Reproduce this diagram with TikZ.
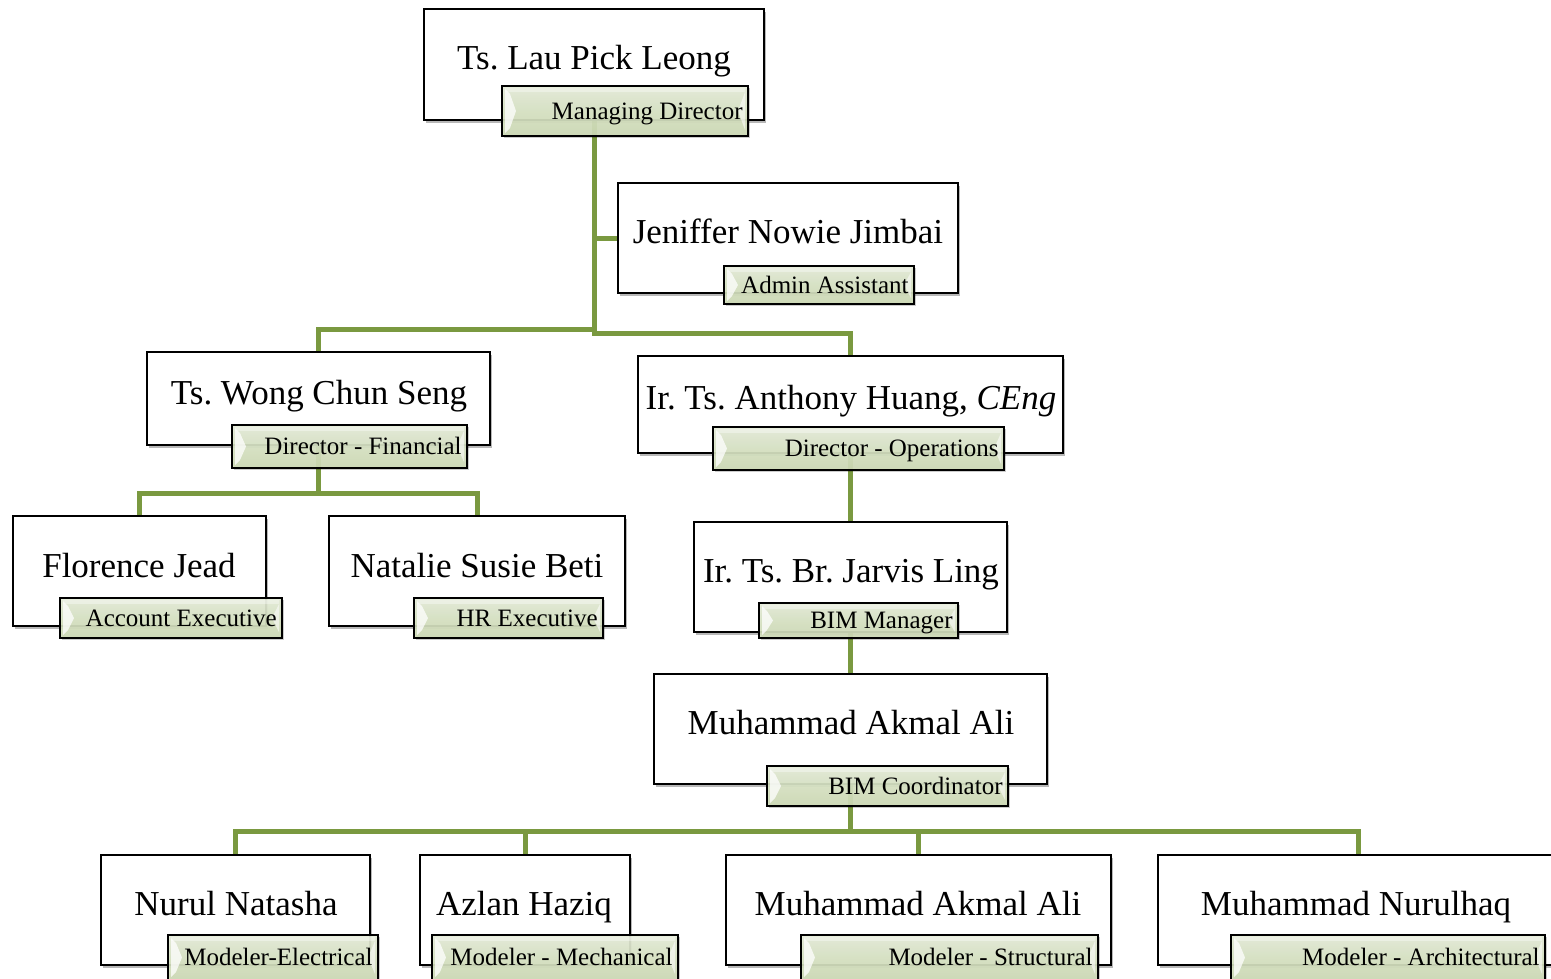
\documentclass[tikz,border=0pt]{standalone}
\usepackage{fontspec}
\setmainfont{Liberation Serif}
\usetikzlibrary{fit,shadows,calc}
\definecolor{conngreen}{RGB}{122,153,64}
\definecolor{lblfill}{RGB}{216,227,196}
\definecolor{lbltop}{RGB}{230,237,218}
\definecolor{lblbot}{RGB}{206,219,182}
\frenchspacing
\tikzset{
  box/.style={draw=black, line width=1.8pt, fill=white, inner sep=0pt, rectangle,
    drop shadow={shadow xshift=2pt, shadow yshift=-3pt, fill=black, opacity=0.28}},
  lbl/.style={draw=black, line width=1.6pt, inner sep=0pt, rectangle,
    top color=lbltop, bottom color=lblbot, middle color=lblfill, fill opacity=0.92,
    drop shadow={shadow xshift=1.5pt, shadow yshift=-2pt, fill=black, opacity=0.2},
    path picture={
      \fill[white, opacity=0.75]
        ($(path picture bounding box.north west)+(3pt,-3pt)$) --
        ($(path picture bounding box.north west)+(8pt,-8pt)$) --
        ($(path picture bounding box.west)+(14pt,0pt)$) --
        ($(path picture bounding box.south west)+(8pt,8pt)$) --
        ($(path picture bounding box.south west)+(3pt,3pt)$) -- cycle;
      \fill[white, opacity=0.55]
        ($(path picture bounding box.north east)+(-3pt,-6pt)$) --
        ($(path picture bounding box.east)+(-10pt,0pt)$) --
        ($(path picture bounding box.south east)+(-3pt,6pt)$) -- cycle;
      \fill[white, opacity=0.35]
        ($(path picture bounding box.north west)+(3pt,-2pt)$) rectangle
        ($(path picture bounding box.north east)+(-3pt,-6pt)$);
    }},
  nametext/.style={inner sep=0pt, anchor=base, font=\fontsize{35}{40}\selectfont, text=black},
  lbltext/.style={inner sep=0pt, anchor=base east, font=\fontsize{25}{28}\selectfont, text=black},
  conn/.style={draw=conngreen, line width=5pt, line join=miter}
}
\begin{document}
\begin{tikzpicture}[x=1pt, y=-1pt]
\path[use as bounding box] (0,0) rectangle (1551,978);
\clip (0,0) rectangle (1551,978);

% ---------- geometry of boxes (placed first so connectors can refer to them) ----------
\path
  node[fit={(424,9) (764,120)}, inner sep=0pt] (lau) {}
  node[fit={(618,183) (958,293)}, inner sep=0pt] (jen) {}
  node[fit={(147,352) (490,445)}, inner sep=0pt] (wong) {}
  node[fit={(638,356) (1063,453)}, inner sep=0pt] (ant) {}
  node[fit={(13,516) (266,626)}, inner sep=0pt] (flo) {}
  node[fit={(329,516) (625,626)}, inner sep=0pt] (nat) {}
  node[fit={(694,522) (1007,632)}, inner sep=0pt] (jar) {}
  node[fit={(654,674) (1047,784)}, inner sep=0pt] (akm) {}
  node[fit={(101,855) (370,965)}, inner sep=0pt] (nur) {}
  node[fit={(420,855) (630,965)}, inner sep=0pt] (azl) {}
  node[fit={(726,855) (1111,965)}, inner sep=0pt] (aka) {}
  node[fit={(1158,855) (1558,965)}, inner sep=0pt] (nrh) {};

% ---------- connectors ----------
\coordinate (jl) at (594,329);
\coordinate (jr) at (594,333);
\coordinate (jw) at (319,493);
\coordinate (ja) at (851,831);
\draw[conn] (lau.south) |- (jen.west);
\draw[conn] (lau.south) -- (jr) -| (ant.north);
\draw[conn] (jl) -| (wong.north);
\draw[conn] (wong.south) -- (wong.south |- jw);
\draw[conn] (flo.north) |- (jw) -| (nat.north);
\draw[conn] (ant.south) -- (jar.north);
\draw[conn] (jar.south) -- (akm.north);
\draw[conn] (akm.south) -- (akm.south |- ja);
\draw[conn] (nur.north) |- (ja) -| (nrh.north);
\draw[conn] (azl.north) -- (azl.north |- ja);
\draw[conn] (aka.north) -- (aka.north |- ja);

% ---------- boxes ----------
\node[box, fit={(424,9) (764,120)}] (lau-b) {};
\node[nametext] (lau-t) at (594,69) {Ts. Lau Pick Leong};
\node[lbl, fit={(502,86) (748,136)}] (lau-l) {};
\node[lbltext] at ($(lau-l.east)+(-6,8)$) {Managing Director};

\node[box, fit={(618,183) (958,293)}] (jen-b) {};
\node[nametext] (jen-t) at (788,243) {Jeniffer Nowie Jimbai};
\node[lbl, fit={(724,266) (914,304)}] (jen-l) {};
\node[lbltext] at ($(jen-l.east)+(-6,8)$) {Admin Assistant};

\node[box, fit={(147,352) (490,445)}] (wong-b) {};
\node[nametext] (wong-t) at (319,404) {Ts. Wong Chun Seng};
\node[lbl, fit={(232,425) (467,468)}] (wong-l) {};
\node[lbltext] at ($(wong-l.east)+(-6,8)$) {Director - Financial};

\node[box, fit={(638,356) (1063,453)}] (ant-b) {};
\node[nametext] (ant-t) at (851,409) {Ir. Ts. Anthony Huang, \textit{CEng}};
\node[lbl, fit={(713,427) (1004,470)}] (ant-l) {};
\node[lbltext] at ($(ant-l.east)+(-6,8)$) {Director - Operations};

\node[box, fit={(13,516) (266,626)}] (flo-b) {};
\node[nametext] (flo-t) at (139,577) {Florence Jead};
\node[lbl, fit={(60,598) (282,638)}] (flo-l) {};
\node[lbltext] at ($(flo-l.east)+(-6,8)$) {Account Executive};

\node[box, fit={(329,516) (625,626)}] (nat-b) {};
\node[nametext] (nat-t) at (477,577) {Natalie Susie Beti};
\node[lbl, fit={(414,598) (603,638)}] (nat-l) {};
\node[lbltext] at ($(nat-l.east)+(-6,8)$) {HR Executive};

\node[box, fit={(694,522) (1007,632)}] (jar-b) {};
\node[nametext] (jar-t) at (851,582) {Ir. Ts. Br. Jarvis Ling};
\node[lbl, fit={(759,603) (958,638)}] (jar-l) {};
\node[lbltext] at ($(jar-l.east)+(-6,8)$) {BIM Manager};

\node[box, fit={(654,674) (1047,784)}] (akm-b) {};
\node[nametext] (akm-t) at (851,734) {Muhammad Akmal Ali};
\node[lbl, fit={(767,766) (1008,806)}] (akm-l) {};
\node[lbltext] at ($(akm-l.east)+(-6,8)$) {BIM Coordinator};

\node[box, fit={(101,855) (370,965)}] (nur-b) {};
\node[nametext] (nur-t) at (236,915) {Nurul Natasha};
\node[lbl, fit={(168,935) (378,980)}] (nur-l) {};
\node[lbltext] at ($(nur-l.east)+(-6,8)$) {Modeler-Electrical};

\node[box, fit={(420,855) (630,965)}] (azl-b) {};
\node[nametext] (azl-t) at (524,915) {Azlan Haziq};
\node[lbl, fit={(432,935) (678,980)}] (azl-l) {};
\node[lbltext] at ($(azl-l.east)+(-6,8)$) {Modeler - Mechanical};

\node[box, fit={(726,855) (1111,965)}] (aka-b) {};
\node[nametext] (aka-t) at (918,915) {Muhammad Akmal Ali};
\node[lbl, fit={(801,935) (1098,980)}] (aka-l) {};
\node[lbltext] at ($(aka-l.east)+(-6,8)$) {Modeler - Structural};

\node[box, fit={(1158,855) (1558,965)}] (nrh-b) {};
\node[nametext] (nrh-t) at (1356,915) {Muhammad Nurulhaq};
\node[lbl, fit={(1231,935) (1545,980)}] (nrh-l) {};
\node[lbltext] at ($(nrh-l.east)+(-6,8)$) {Modeler - Architectural};
\end{tikzpicture}
\end{document}
